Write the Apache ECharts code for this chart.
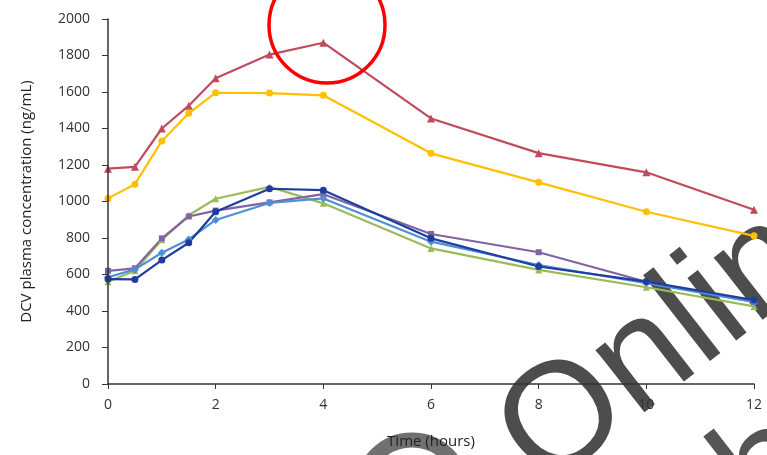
<!DOCTYPE html>
<html>
<head>
<meta charset="utf-8">
<script src="https://cdn.jsdelivr.net/npm/echarts@6/dist/echarts.min.js"></script>
<style>html,body{margin:0;padding:0;background:#fff;}#c{width:767px;height:455px;}</style>
</head>
<body>
<div id="c"></div>
<script>
const times = [0, 0.5, 1, 1.5, 2, 3, 4, 6, 8, 10, 12];
const redVals = [1180, 1190, 1400, 1525, 1675, 1805, 1870, 1455, 1265, 1160, 955];
const yellowVals = [1017, 1095, 1332, 1483, 1596, 1594, 1582, 1264, 1105, 944, 812];
const greenVals = [560, 620, 790, 925, 1015, 1080, 990, 743, 625, 530, 425];
const purpleVals = [620, 634, 798, 918, 950, 995, 1040, 822, 722, 560, 450];
const lightBlueVals = [585, 628, 719, 792, 899, 992, 1017, 780, 652, 553, 450];
const darkBlueVals = [575, 573, 679, 774, 944, 1070, 1062, 798, 644, 561, 460];
const yTicks = [0, 200, 400, 600, 800, 1000, 1200, 1400, 1600, 1800, 2000];
const xTicks = [0, 2, 4, 6, 8, 10, 12];

function pairs(v){ return times.map((t,i)=>[t, v[i]]); }
function mk(name, vals, color, symbol, size){
  return {name, type:'line', z:5, data:pairs(vals), symbol, symbolSize:size, showSymbol:true,
    lineStyle:{color, width:2.2}, itemStyle:{color}, animation:false};
}
const chart = echarts.init(document.getElementById('c'));
const font = 'Open Sans, Liberation Sans, sans-serif';
const rot = 38*Math.PI/180;
const wm = '"Liberation Sans", Arial, sans-serif';
chart.setOption({
  backgroundColor:'#fff',
  grid:{left:108, right:13, top:19, bottom:71},
  xAxis:{type:'value', z:10, min:xTicks[0], max:xTicks[xTicks.length-1], interval:2,
    name:'Time (hours)', nameLocation:'middle', nameGap:50,
    nameTextStyle:{fontFamily:font, fontSize:15, color:'#222'},
    axisLine:{lineStyle:{color:'#333', width:1.5}},
    axisTick:{show:true, length:5, lineStyle:{color:'#333'}},
    splitLine:{show:false},
    axisLabel:{fontFamily:font, fontSize:14, color:'#333', margin:14, formatter:v=>String(v)}},
  yAxis:{type:'value', z:10, min:yTicks[0], max:yTicks[yTicks.length-1], interval:200,
    name:'DCV plasma concentration (ng/mL)', nameLocation:'middle', nameGap:74,
    nameTextStyle:{fontFamily:font, fontSize:15, color:'#222'},
    axisLine:{show:true, lineStyle:{color:'#333', width:1.5}},
    axisTick:{show:true, length:6, lineStyle:{color:'#333'}},
    splitLine:{show:false},
    axisLabel:{fontFamily:font, fontSize:14, color:'#333', margin:18, formatter:v=>String(v)}},
  series:[
    mk('yellow', yellowVals, '#ffc000', 'circle', 7),
    mk('red', redVals, '#c04a5e', 'triangle', 8),
    mk('green', greenVals, '#9bbb59', 'triangle', 7),
    mk('purple', purpleVals, '#8064a2', 'rect', 6),
    mk('lightblue', lightBlueVals, '#4f8fd6', 'diamond', 8),
    mk('darkblue', darkBlueVals, '#1f3d9e', 'circle', 7)
  ],
  graphic:[
    {type:'text', x:565, y:517, rotation:rot, z:-1,
      style:{text:'Online', font:'150px ' + wm, fill:'#4d4d4d',
        stroke:'#ffffff', lineWidth:3, textVerticalAlign:'bottom'}},
    {type:'text', x:783, y:555, rotation:rot, z:-1,
      style:{text:'b', font:'150px ' + wm, fill:'#555555',
        stroke:'#ffffff', lineWidth:3, textVerticalAlign:'bottom'}},
    {type:'circle', z:-1, shape:{cx:412, cy:490, r:50}, style:{fill:'none', stroke:'#707070', lineWidth:15}},
    {type:'circle', z:100, shape:{cx:327, cy:25, r:58}, style:{fill:'none', stroke:'#ff0000', lineWidth:3.5}}
  ]
});
</script>
</body>
</html>
